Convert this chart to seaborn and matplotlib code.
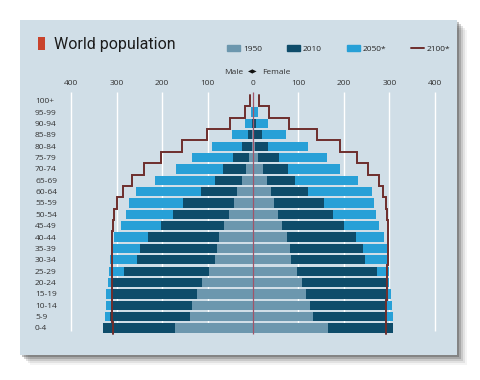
import matplotlib
matplotlib.use("Agg")
import matplotlib.pyplot as plt
from matplotlib.patches import Rectangle, Patch
from matplotlib.lines import Line2D
import numpy as np
import pandas as pd
import seaborn as sns

ages = ["100+", "95-99", "90-94", "85-89", "80-84", "75-79", "70-74", "65-69",
        "60-64", "55-59", "50-54", "45-49", "40-44", "35-39", "30-34", "25-29",
        "20-24", "15-19", "10-14", "5-9", "0-4"]
years = ["1950", "2010", "2050*", "2100*"]

# millions (top row = 100+)
male_1950 = [0, 0.2, 0.5, 1.5, 3, 8, 16, 25, 34.5, 42.5, 52, 63, 74, 80, 84, 97, 113, 122, 134, 139, 172]
female_1950 = [0, 0.3, 0.8, 2, 5, 11.7, 21, 30, 39.6, 45.4, 55, 64.5, 74, 82, 83.5, 96.7, 108, 115.8, 126, 131, 164]
male_2010 = [0.1, 0.8, 3, 10.3, 25, 43, 65, 83, 114, 153, 176, 202, 231, 248, 255, 283, 311, 313, 313, 315, 329]
female_2010 = [0.3, 2, 6, 19, 34, 57, 77.6, 91.6, 121, 155, 176, 201, 226, 241, 246, 272, 294.5, 292.3, 291.6, 291.6, 307]
male_2050 = [1, 4.4, 17.6, 47, 90, 135, 170, 216, 258, 273, 280, 290, 305, 309, 314, 317, 319, 322, 324, 326, 326]
female_2050 = [2, 11.7, 33.6, 72, 121.6, 163, 191, 231, 262, 267, 270, 276, 288.6, 295, 298, 298, 299.5, 303, 306, 307.5, 305]
male_2100 = [6, 17, 50, 102, 157, 203, 240, 267, 285, 298, 305, 308, 310, 310, 310, 310, 310, 309.5, 309, 309, 308]
female_2100 = [12.5, 36, 80, 140, 191, 228, 253, 276, 285, 292, 295, 297, 297, 297, 296, 295, 294.5, 294, 293, 292.5, 292]

ticks = [-400, -300, -200, -100, 0, 100, 200, 300, 400]

c1950 = "#6c97ae"
c2010 = "#0e4c6a"
c2050 = "#27a0d7"
c2100 = "#6e2e2c"
card_c = "#d0dee7"

sns.set_theme(style="white")
plt.rcParams["font.family"] = ["Open Sans", "DejaVu Sans"]

W, H = 480, 380
fig = plt.figure(figsize=(4.8, 3.8), dpi=100)
fig.patch.set_facecolor("white")


def box(x0, y0, w, h):
    return (x0 / W, 1 - (y0 + h) / H), w / W, h / H


# card with a soft shadow
for off, a in [(10, 0.05), (8, 0.09), (6, 0.14), (4, 0.22), (2, 0.3)]:
    xy, w, h = box(20 + off, 20 + off, 437, 335)
    fig.patches.append(Rectangle(xy, w, h, transform=fig.transFigure,
                                 color="#333333", alpha=a, zorder=-3, lw=0))
xy, w, h = box(20, 20, 437, 335)
fig.patches.append(Rectangle(xy, w, h, transform=fig.transFigure, color=card_c, zorder=-1, lw=0))

# title
xy, w, h = box(38, 37.5, 7, 12.5)
fig.patches.append(Rectangle(xy, w, h, transform=fig.transFigure, color="#c9432c", zorder=2, lw=0))
fig.text(54 / W, 1 - 45 / H, "World population", fontsize=11.5, ha="left", va="center",
         color="#1c1c1c", family=["Roboto", "DejaVu Sans"])

xy, w, h = box(60, 91.5, 386, 243.3)
ax = fig.add_axes([xy[0], xy[1], w, h])
ax.set_facecolor("none")

ax.vlines([t for t in ticks if t != 0], -0.81, 20.25, color="white", lw=1.0, zorder=0.5)

for m, f, c in [(male_2050, female_2050, c2050),
                (male_2010, female_2010, c2010),
                (male_1950, female_1950, c1950)]:
    df = pd.DataFrame({
        "age": ages * 2,
        "pop": [-v for v in m] + list(f),
        "sex": ["Male"] * len(ages) + ["Female"] * len(ages),
    })
    sns.barplot(data=df, x="pop", y="age", hue="sex", order=ages, orient="h",
                palette=[c, c], dodge=False, width=0.82, saturation=1,
                errorbar=None, legend=False, linewidth=0, ax=ax)

idx = np.arange(len(ages))
ys = np.column_stack([idx - 0.5, idx + 0.5]).ravel()
for vals, sign in [(male_2100, -1), (female_2100, 1)]:
    ax.plot(sign * np.repeat(vals, 2), ys, color=c2100, lw=1.4,
            solid_joinstyle="miter", clip_on=False, zorder=4)

ax.vlines(0, -0.81, 20.55, color="#a05569", lw=0.9, zorder=5)

ax.set_xlim(-424.2, 424.2)
ax.set_ylim(20.6, -0.81)
ax.set_xticks(ticks)
ax.set_xticklabels([str(abs(t)) for t in ticks])
ax.xaxis.tick_top()
ax.tick_params(axis="x", length=0, pad=3, labelsize=6, labelcolor="#333333")
ax.tick_params(axis="y", length=0, pad=18, labelsize=6, labelcolor="#333333")
for lab in ax.get_yticklabels():
    lab.set_ha("left")
ax.set_xlabel("")
ax.set_ylabel("")
for s in ax.spines.values():
    s.set_visible(False)

handles = [Patch(color=c1950), Patch(color=c2010), Patch(color=c2050),
           Line2D([], [], color=c2100, lw=1.4)]
fig.legend(handles, years, loc="center left", bbox_to_anchor=(227 / W, 1 - 49 / H),
           ncol=4, frameon=False, fontsize=6, handlelength=1.6, handleheight=0.8,
           handletextpad=0.3, columnspacing=3.0, borderpad=0, borderaxespad=0)

fig.text(243 / W, 1 - 72 / H, "Male", ha="right", va="center", fontsize=6, color="#333333")
fig.text(253 / W, 1 - 72 / H, "◀▶", ha="center", va="center", fontsize=4.5,
         family=["DejaVu Sans"], color="#111111")
fig.text(262 / W, 1 - 72 / H, "Female", ha="left", va="center", fontsize=6, color="#333333")

fig.savefig("out.png", dpi=100)
